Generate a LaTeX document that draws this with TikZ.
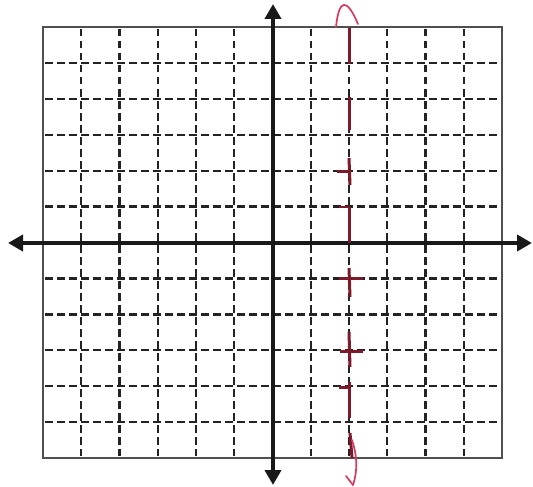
\documentclass[tikz,border=0pt]{standalone}
\usetikzlibrary{arrows.meta}
\definecolor{gridc}{RGB}{35,35,35}
\definecolor{boxc}{RGB}{80,80,80}
\definecolor{redd}{RGB}{125,25,40}
\definecolor{redp}{RGB}{215,60,95}
\tikzset{
  gridline/.style={gridc, line width=2.3pt, dash pattern=on 7.5pt off 4.5pt},
  boxline/.style={boxc, line width=1.8pt},
  axisline/.style={black!90, line width=3.8pt, {Triangle[width=16pt,length=15pt]}-{Triangle[width=16pt,length=15pt]}},
  redline/.style={redd, line width=3pt},
  redhook/.style={redp, line width=1.7pt, line cap=round},
}
\begin{document}
\begin{tikzpicture}[x=1pt,y=-1pt]
\useasboundingbox (0,0) rectangle (533,487);
\fill[white] (0,0) rectangle (533,487);
% grid
\foreach \i in {1,2,3,4,5,7,8,9,10,11}{
  \draw[gridline] ({43+38.25*\i},29) -- ({43+38.25*\i},456);
  \draw[gridline] (45,{27+35.92*\i}) -- (500,{27+35.92*\i});
}
% box
\draw[boxline] (43,27) rectangle (502,458);
% axes
\coordinate (L) at (8,243);
\coordinate (R) at (532,243);
\coordinate (T) at (273,4);
\coordinate (B) at (273,485);
\draw[axisline] (L) -- (R);
\draw[axisline] (T) -- (B);
% red hand-drawn line x = 2
\draw[redhook] (336,27) .. controls (339,-2) and (347,-2) .. (358,24);
\draw[redline] (349,28) -- (349,64);
\draw[redline] (349,97) -- (349,130);
\draw[redline] (349,158) -- (350,185);
\draw[redline] (337,171) -- (349,171);
\draw[redd, line width=1.2pt] (339,207) -- (349,207);
\draw[redline] (349,207) -- (349,243);
\draw[redline] (349,268) -- (350,297);
\draw[redline] (339,278) -- (363,278);
\draw[redline] (349,332) -- (350,367);
\draw[redline] (340,351) -- (363,351);
\draw[redline] (349,382) -- (349,418);
\draw[redline] (339,387) -- (349,387);
\draw[redline] (350,433) -- (352,458);
\draw[redhook] (352,440) .. controls (357,455) and (358,470) .. (353,485);
\draw[redhook] (346,476) -- (353,485);
\end{tikzpicture}
\end{document}
